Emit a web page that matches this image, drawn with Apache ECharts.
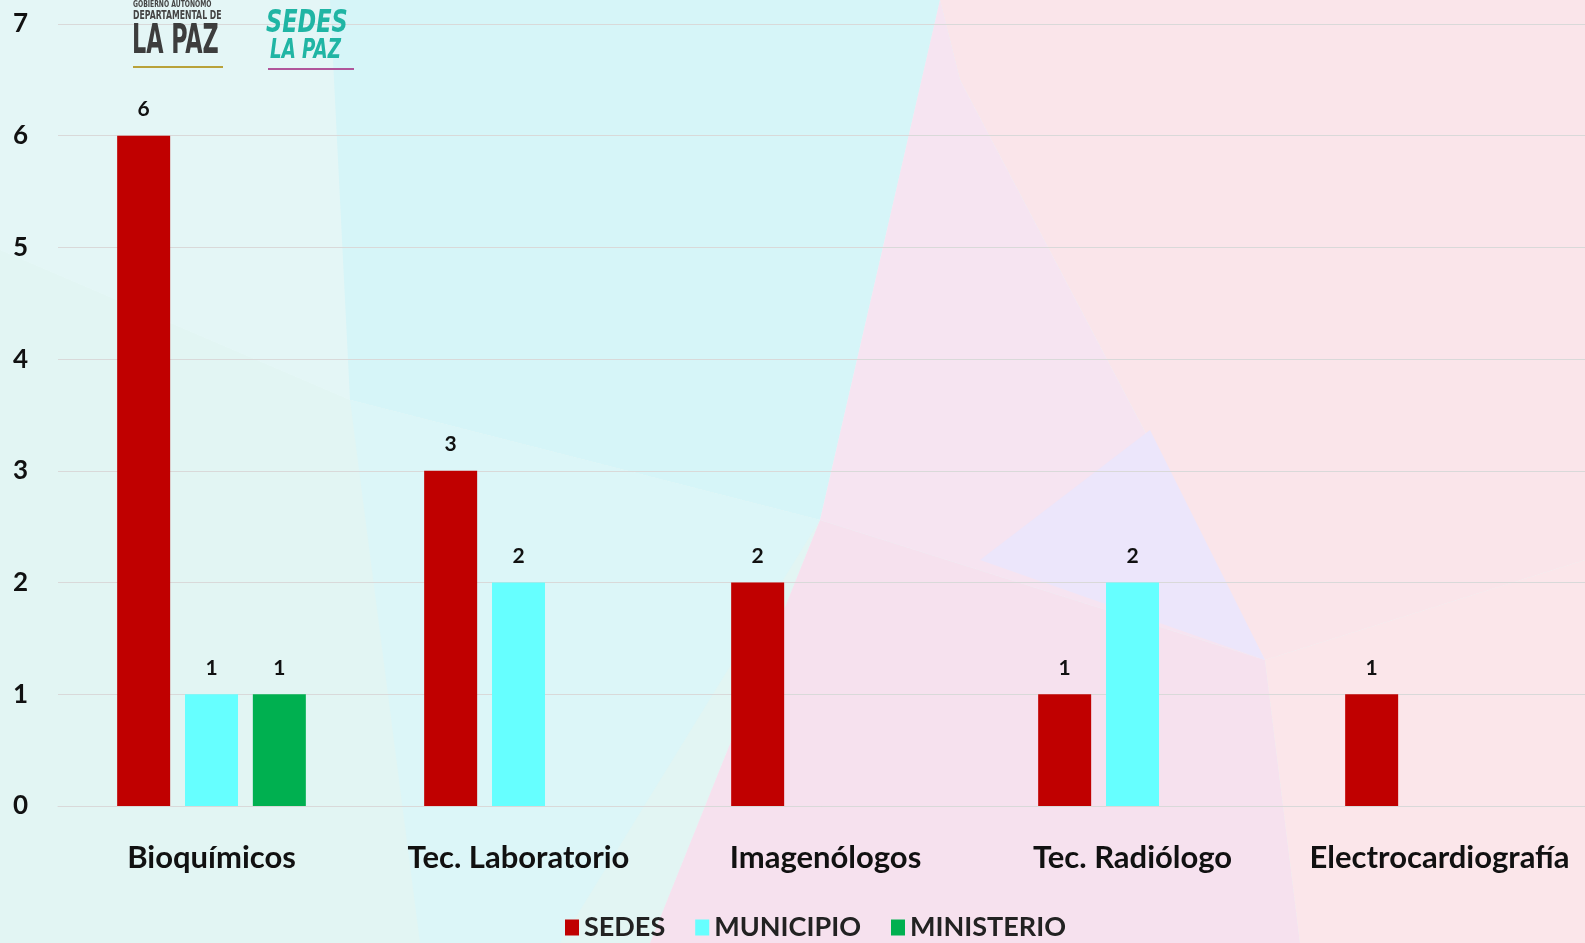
<!DOCTYPE html>
<html>
<head>
<meta charset="utf-8">
<script src="https://cdn.jsdelivr.net/npm/echarts@6/dist/echarts.min.js"></script>
<style>
  html, body { margin: 0; padding: 0; }
  #chart { width: 1585px; height: 943px; background: #e6f6f6; }
</style>
</head>
<body>
<div id="chart"></div>
<script>
  // categorías y valores
  const categories = ['Bioquímicos', 'Tec. Laboratorio', 'Imagenólogos', 'Tec. Radiólogo', 'Electrocardiografía'];
  const sedes = [6, 3, 2, 1, 1];
  const municipio = [1, 2, null, 2, null];
  const ministerio = [1, null, null, null, null];
  const yTicks = [0, 1, 2, 3, 4, 5, 6, 7];

  const chart = echarts.init(document.getElementById('chart'));
  const fontFam = 'Lato, "Open Sans", sans-serif';

  // fondo de polígonos pastel
  const bgShapes = [
    { pts: [[0, 0], [330, 0], [350, 400], [0, 250]], fill: '#e4f6f6' },
    { pts: [[330, 0], [940, 0], [820, 520], [350, 400]], fill: '#d6f5f8' },
    { pts: [[940, 0], [1585, 0], [1585, 560], [1265, 660], [960, 80]], fill: '#fae5ea' },
    { pts: [[940, 0], [960, 80], [1265, 660], [820, 520]], fill: '#f6e4f1' },
    { pts: [[0, 250], [350, 400], [820, 520], [650, 943], [0, 943]], fill: '#e2f5f3' },
    { pts: [[820, 520], [1265, 660], [1300, 943], [650, 943]], fill: '#f6e1ee' },
    { pts: [[1265, 660], [1585, 560], [1585, 943], [1300, 943]], fill: '#fbe6ea' },
    { pts: [[1150, 430], [1265, 660], [980, 560]], fill: '#ece6fb' },
    { pts: [[350, 400], [820, 520], [560, 943], [420, 943]], fill: '#dcf6f8' }
  ];
  const graphics = bgShapes.map(s => ({
    type: 'polygon',
    z: -10,
    silent: true,
    shape: { points: s.pts },
    style: { fill: s.fill }
  }));

  // logos como texto
  graphics.push(
    { type: 'text', x: 133, y: 0, scaleX: 0.75, z: 10, style: { text: 'GOBIERNO AUTÓNOMO', font: 'bold 9px "DejaVu Sans Condensed"', fill: '#444' } },
    { type: 'text', x: 133, y: 10, scaleX: 0.72, z: 10, style: { text: 'DEPARTAMENTAL DE', font: 'bold 12px "DejaVu Sans Condensed"', fill: '#444' } },
    { type: 'text', x: 132, y: 23, scaleX: 0.62, z: 10, style: { text: 'LA PAZ', font: 'bold 40px "DejaVu Sans Condensed"', fill: '#3d3d3d' } },
    { type: 'rect', x: 133, y: 66, z: 10, shape: { width: 90, height: 2 }, style: { fill: '#b9a23a' } },
    { type: 'text', x: 266, y: 8, scaleX: 0.78, z: 10, style: { text: 'SEDES', font: 'italic bold 32px "DejaVu Sans Condensed"', fill: '#20b5a4' } },
    { type: 'text', x: 270, y: 38, scaleX: 0.78, z: 10, style: { text: 'LA PAZ', font: 'italic bold 26px "DejaVu Sans Condensed"', fill: '#20b5a4' } },
    { type: 'rect', x: 268, y: 68, z: 10, shape: { width: 86, height: 2 }, style: { fill: '#b0559a' } }
  );

  const labelStyle = {
    show: true,
    position: 'top',
    distance: 16,
    color: '#111',
    fontFamily: fontFam,
    fontWeight: 'bold',
    fontSize: 21
  };

  chart.setOption({
    backgroundColor: 'transparent',
    graphic: graphics,
    grid: { left: 58, width: 1535, top: 24, bottom: 137, outerBoundsMode: 'none', containLabel: false },
    legend: {
      data: ['SEDES', 'MUNICIPIO', 'MINISTERIO'],
      left: 560,
      top: 909,
      itemWidth: 14,
      itemHeight: 16,
      itemGap: 30,
      icon: 'rect',
      textStyle: { color: '#222', fontFamily: fontFam, fontWeight: 'bold', fontSize: 27 }
    },
    xAxis: {
      type: 'category',
      data: categories,
      axisLine: { show: true, lineStyle: { color: '#d9d9d9' } },
      axisTick: { show: false },
      axisLabel: {
        interval: 0,
        color: '#111',
        fontFamily: fontFam,
        fontWeight: 'bold',
        fontSize: 31,
        margin: 36
      }
    },
    yAxis: {
      type: 'value',
      min: yTicks[0],
      max: yTicks[yTicks.length - 1],
      interval: 1,
      axisLine: { show: false },
      axisTick: { show: false },
      splitLine: { lineStyle: { color: '#d9d9d9', width: 1 } },
      axisLabel: {
        color: '#111',
        fontFamily: fontFam,
        fontWeight: 'bold',
        fontSize: 26,
        margin: 30
      }
    },
    series: [
      { name: 'SEDES', type: 'bar', data: sedes, barWidth: 53, barGap: '28%', itemStyle: { color: '#c00000' }, label: labelStyle },
      { name: 'MUNICIPIO', type: 'bar', data: municipio, barWidth: 53, barGap: '28%', itemStyle: { color: '#66ffff' }, label: labelStyle },
      { name: 'MINISTERIO', type: 'bar', data: ministerio, barWidth: 53, barGap: '28%', itemStyle: { color: '#00b050' }, label: labelStyle }
    ]
  });
</script>
</body>
</html>
